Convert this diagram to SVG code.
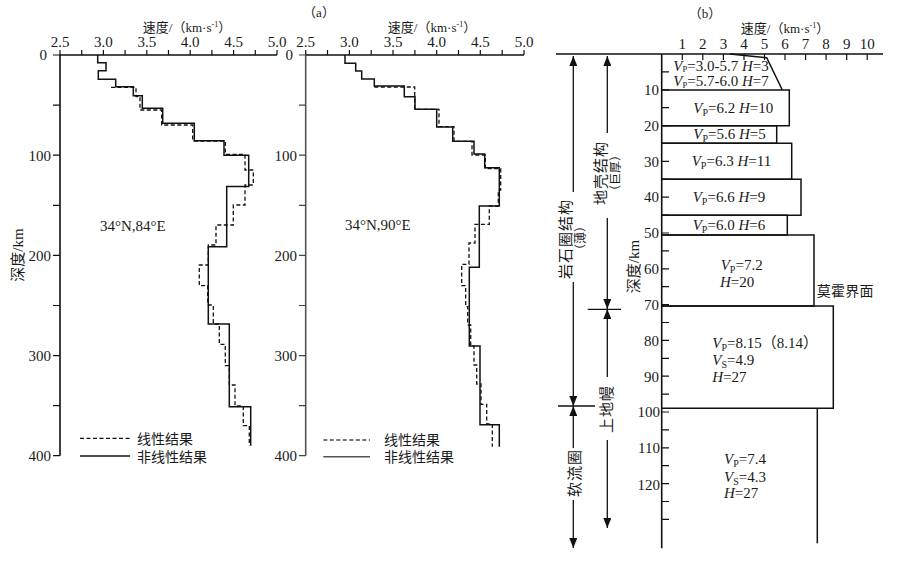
<svg xmlns="http://www.w3.org/2000/svg" width="900" height="561" viewBox="0 0 900 561">
<defs>
<style>
text{font-family:"Liberation Serif","Noto Sans CJK SC",serif;fill:#1a1a1a;font-size:15px}
.ax{stroke:#111;stroke-width:1.6;fill:none}
.tk{stroke:#111;stroke-width:1.2;fill:none}
.sol{stroke:#111;stroke-width:1.5;fill:none}
.dsh{stroke:#111;stroke-width:1.3;fill:none;stroke-dasharray:4 2.5}
.box{stroke:#111;stroke-width:1.5;fill:none}
.ln{stroke:#111;stroke-width:1.3;fill:none}
.lab{font-size:14px}
.sm{font-size:12.5px}
.cjk{font-size:14px}
.i{font-style:italic}
.sub{font-size:10px}
.sub2{font-size:8.5px}
.mid{text-anchor:middle}
.end{text-anchor:end}
</style>
<marker id="ah" viewBox="0 0 10 8" refX="10" refY="4" markerWidth="10" markerHeight="8" markerUnits="userSpaceOnUse" orient="auto">
<path d="M0,0 L10,4 L0,8 z" fill="#111"/>
</marker>
</defs>
<rect width="900" height="561" fill="#fff"/>

<!-- Panel (a) left plot -->
<g id="plot-a1">
<text x="187" y="32" class="mid cjk" style="font-size:13px">速度/（km·s<tspan font-size="8" dy="-5">-1</tspan><tspan dy="5">）</tspan></text>
<path class="ax" d="M60,55 H277 M60,55 V455.7"/>
<path class="tk" d="M60,50V55 M81.7,50V55 M103.4,50V55 M125.1,50V55 M146.8,50V55 M168.5,50V55 M190.2,50V55 M211.9,50V55 M233.6,50V55 M255.3,50V55 M277,50V55"/>
<path class="tk" d="M53,55H60 M53,105.1H60 M53,155.2H60 M53,205.3H60 M53,255.4H60 M53,305.5H60 M53,355.6H60 M53,405.6H60 M53,455.7H60"/>
<g class="mid">
<text x="60" y="47">2.5</text><text x="103.4" y="47">3.0</text><text x="146.8" y="47">3.5</text><text x="190.2" y="47">4.0</text><text x="233.6" y="47">4.5</text><text x="277" y="47">5.0</text>
</g>
<g class="end">
<text x="47" y="60">0</text><text x="51" y="160.5">100</text><text x="51" y="260.5">200</text><text x="51" y="360.6">300</text><text x="51" y="460.7">400</text>
</g>
<text x="18" y="255" class="mid" transform="rotate(-90 18 255)" dominant-baseline="central">深度/km</text>
<text x="100" y="231">34°N,84°E</text>
<path class="sol" d="M97.7,55 V62.7 H106 V70.7 H98.3 V79.3 H115.7 V86.7 H133.3 V95.7 H142.3 V108.3 H162.7 V123.3 H194.3 V140.7 H224 V155.3 H248.7 V186.5 H226.7 V246.7 H208.3 V324 H229.3 V406.7 H250.7 V445.7"/>
<path class="dsh" d="M111,87.3 H136 V96.7 H140 V110 H161.7 V125 H192.7 V141 H225.3 V154.3 H245 V170 H253.3 V185 H245 V205 H233.3 V225 H216 V245 H208.3 V265 H199.3 V285.7 H207.7 V305 H213.3 V324 H219.3 V344.3 H225.3 V365.7 H229.3 V385 H235 V406 H243.3 V425.7 H249.3 V445.7"/>
<path class="dsh" d="M80,438.3 H130"/>
<path class="sol" d="M80,456 H130"/>
<text x="137" y="443.5" class="cjk">线性结果</text>
<text x="137" y="461.5" class="cjk">非线性结果</text>
</g>

<!-- Panel (a) right plot -->
<g id="plot-a2">
<text x="319" y="17" class="mid" style="font-size:13px">（a）</text>
<text x="432" y="32" class="mid cjk" style="font-size:13px">速度/（km·s<tspan font-size="8" dy="-5">-1</tspan><tspan dy="5">）</tspan></text>
<path class="ax" d="M305.7,55 H524"/>
<path class="ax" style="stroke:#555" d="M305.7,55 V455.7"/>
<path class="tk" d="M305.7,50V55 M327.5,50V55 M349.4,50V55 M371.2,50V55 M393,50V55 M414.9,50V55 M436.7,50V55 M458.5,50V55 M480.3,50V55 M502.2,50V55 M524,50V55"/>
<path class="tk" style="stroke:#444" d="M299,55H305.7 M299,105.1H305.7 M299,155.2H305.7 M299,205.3H305.7 M299,255.4H305.7 M299,305.5H305.7 M299,355.6H305.7 M299,405.6H305.7 M299,455.7H305.7"/>
<g class="mid">
<text x="305.7" y="47">2.5</text><text x="349.4" y="47">3.0</text><text x="393" y="47">3.5</text><text x="436.7" y="47">4.0</text><text x="480.3" y="47">4.5</text><text x="524" y="47">5.0</text>
</g>
<g class="end">
<text x="293" y="60">0</text><text x="297" y="160.5">100</text><text x="297" y="260.5">200</text><text x="297" y="360.6">300</text><text x="297" y="460.7">400</text>
</g>
<text x="345" y="230">34°N,90°E</text>
<path class="sol" d="M345,55 V63.3 H355.7 V71 H361.7 V79 H374.3 V86 H404.3 V96.7 H415 V109.3 H436.7 V127 H452.7 V141.3 H474 V154 H484.7 V167.7 H499.3 V206 H479.3 V267.3 H469.3 V346 H480 V424.7 H499.3 V446.7"/>
<path class="dsh" d="M374.3,87 H414.7 V109.3 H439 V126.7 H454 V141.3 H472 V155 H485.3 V168.7 H500.7 V190 H498.3 V206 H489.3 V224.3 H475 V243 H469 V264.3 H461.7 V285.7 H465.7 V306.7 H467.7 V325 H470.7 V346 H474 V365 H476.7 V384 H481 V404.3 H486.7 V424 H492.3 V446.7"/>
<path class="dsh" style="stroke:#444" d="M323.3,440 H370"/>
<path class="sol" style="stroke:#555" d="M323.3,456.7 H370"/>
<text x="384" y="445" class="cjk">线性结果</text>
<text x="384" y="462" class="cjk">非线性结果</text>
</g>

<!-- Panel (b) -->
<g id="panel-b">
<text x="705" y="18" class="mid" style="font-size:13px">（b）</text>
<text x="785" y="33" class="mid cjk" style="font-size:13px">速度/（km·s<tspan font-size="8" dy="-5">-1</tspan><tspan dy="5">）</tspan></text>
<path class="ax" d="M556,54 H883 M661.7,54 V548.3"/>
<path class="tk" d="M682.3,54V60 M702.8,54V60 M723.4,54V60 M744,54V60 M764.5,54V60 M785,54V60 M805.6,54V60 M826.1,54V60 M846.7,54V60 M867.2,54V60"/>
<g class="mid">
<text x="682.3" y="49">1</text><text x="702.8" y="49">2</text><text x="723.4" y="49">3</text><text x="744" y="49">4</text><text x="764.5" y="49">5</text><text x="785" y="49">6</text><text x="805.6" y="49">7</text><text x="826.1" y="49">8</text><text x="846.7" y="49">9</text><text x="867.2" y="49">10</text>
</g>
<path class="tk" d="M661.7,71.9H669 M661.7,89.8H669 M661.7,107.7H669 M661.7,125.6H669 M661.7,143.5H669 M661.7,161.4H669 M661.7,179.3H669 M661.7,197.2H669 M661.7,215.1H669 M661.7,233H669 M661.7,250.9H669 M661.7,268.8H669 M661.7,286.7H669 M661.7,304.6H669 M661.7,322.5H669 M661.7,340.4H669 M661.7,358.3H669 M661.7,376.2H669 M661.7,394.1H669 M661.7,412H669 M661.7,429.9H669 M661.7,447.8H669 M661.7,465.7H669 M661.7,483.6H669 M661.7,501.5H669 M661.7,519.4H669"/>
<g class="end">
<text x="659" y="95">10</text><text x="659" y="131">20</text><text x="659" y="166.5">30</text><text x="659" y="202">40</text><text x="659" y="238.3">50</text><text x="659" y="274">60</text><text x="659" y="310">70</text><text x="659" y="345.8">80</text><text x="659" y="381.7">90</text><text x="660" y="416.8">100</text><text x="660" y="453.3">110</text><text x="660" y="490">120</text>
</g>
<text x="634" y="266.5" class="mid" transform="rotate(-90 634 266.5)" dominant-baseline="central">深度/km</text>

<path class="box" d="M730,54 L766.7,57.7 L782.3,90"/>
<path class="box" d="M661.7,90 H789.3 V125.7 H661.7"/>
<path class="box" d="M661.7,125.7 H776.7 V143.3 H661.7"/>
<path class="box" d="M661.7,143.3 H791.7 V179.3 H661.7"/>
<path class="box" d="M661.7,179.3 H801 V215.3 H661.7"/>
<path class="box" d="M661.7,215.3 H787.3 V235 H661.7"/>
<path class="box" d="M661.7,235 H814 V306 H661.7"/>
<path class="box" d="M661.7,306 H833.3 V408.3 H661.7"/>
<path class="box" d="M817.3,408.3 V543.3"/>

<g style="font-size:12px">
<text x="673.3" y="70.5"><tspan class="i">V</tspan><tspan class="sub2" dy="1.5">P</tspan><tspan dy="-1.5">=3.0-5.7 </tspan><tspan class="i">H</tspan>=3</text>
<text x="673.3" y="86"><tspan class="i">V</tspan><tspan class="sub2" dy="1.5">P</tspan><tspan dy="-1.5">=5.7-6.0 </tspan><tspan class="i">H</tspan>=7</text>
</g>
<g class="lab">
<text x="693.3" y="113.3"><tspan class="i">V</tspan><tspan class="sub" dy="3">P</tspan><tspan dy="-3">=6.2 </tspan><tspan class="i">H</tspan>=10</text>
<text x="693.3" y="139.3"><tspan class="i">V</tspan><tspan class="sub" dy="3">P</tspan><tspan dy="-3">=5.6 </tspan><tspan class="i">H</tspan>=5</text>
<text x="691.7" y="166"><tspan class="i">V</tspan><tspan class="sub" dy="3">P</tspan><tspan dy="-3">=6.3 </tspan><tspan class="i">H</tspan>=11</text>
<text x="692.7" y="201.7"><tspan class="i">V</tspan><tspan class="sub" dy="3">P</tspan><tspan dy="-3">=6.6 </tspan><tspan class="i">H</tspan>=9</text>
<text x="692.7" y="230"><tspan class="i">V</tspan><tspan class="sub" dy="3">P</tspan><tspan dy="-3">=6.0 </tspan><tspan class="i">H</tspan>=6</text>
<text x="720.7" y="270"><tspan class="i">V</tspan><tspan class="sub" dy="3">P</tspan><tspan dy="-3">=7.2</tspan></text>
<text x="720" y="286.7"><tspan class="i">H</tspan>=20</text>
<text x="712.3" y="348.3"><tspan class="i">V</tspan><tspan class="sub" dy="3">P</tspan><tspan dy="-3">=8.15（8.14）</tspan></text>
<text x="712.3" y="365"><tspan class="i">V</tspan><tspan class="sub" dy="3">S</tspan><tspan dy="-3">=4.9</tspan></text>
<text x="712.3" y="382.3"><tspan class="i">H</tspan>=27</text>
<text x="724" y="464"><tspan class="i">V</tspan><tspan class="sub" dy="3">P</tspan><tspan dy="-3">=7.4</tspan></text>
<text x="724" y="481.7"><tspan class="i">V</tspan><tspan class="sub" dy="3">S</tspan><tspan dy="-3">=4.3</tspan></text>
<text x="724" y="498.3"><tspan class="i">H</tspan>=27</text>
</g>
<text x="816.7" y="295.7" class="cjk" style="letter-spacing:0.3px">莫霍界面</text>

<g class="cjk" style="font-size:15px;letter-spacing:1px">
<text x="566" y="239" class="mid" transform="rotate(-90 566 239)" dominant-baseline="central">岩石圈结构</text>
<text x="581" y="238" class="mid" transform="rotate(-90 581 238)" dominant-baseline="central" style="font-size:12px;letter-spacing:0">（薄）</text>
<text x="601" y="173" class="mid" transform="rotate(-90 601 173)" dominant-baseline="central">地壳结构</text>
<text x="616" y="173" class="mid" transform="rotate(-90 616 173)" dominant-baseline="central" style="font-size:12px;letter-spacing:0">（巨厚）</text>
<text x="607" y="409" class="mid" transform="rotate(-90 607 409)" dominant-baseline="central">上地幔</text>
<text x="575" y="473" class="mid" transform="rotate(-90 575 473)" dominant-baseline="central">软流圈</text>
</g>
</g>

<g id="connectors">
<path class="ln" d="M573.3,192 V56" marker-end="url(#ah)"/>
<path class="ln" d="M573.3,282 V406" marker-end="url(#ah)"/>
<path class="ln" d="M558,406 H595"/>
<path class="ln" d="M573.3,448 V406" marker-end="url(#ah)"/>
<path class="ln" d="M573.3,500 V548" marker-end="url(#ah)"/>
<path class="ln" d="M607.3,133 V56" marker-end="url(#ah)"/>
<path class="ln" d="M607.3,218 V309" marker-end="url(#ah)"/>
<path class="ln" d="M587.7,309.3 H621"/>
<path class="ln" d="M607.3,377 V309" marker-end="url(#ah)"/>
<path class="ln" d="M607.3,440 V528" marker-end="url(#ah)"/>
</g>
</svg>
